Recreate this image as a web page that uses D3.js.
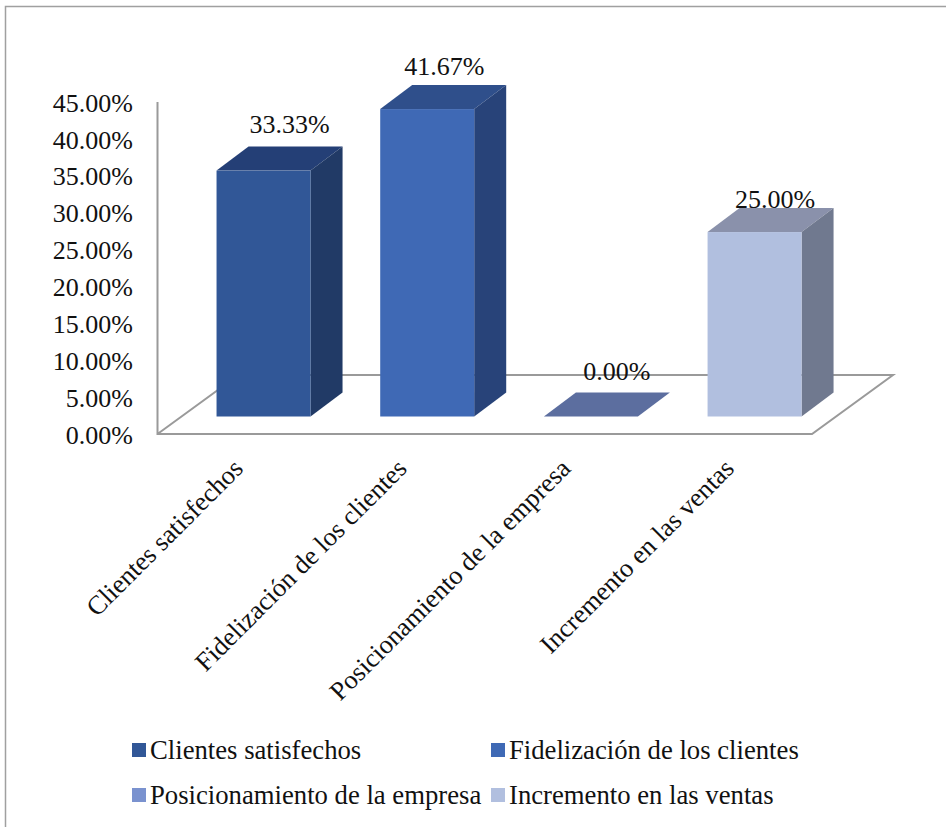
<!DOCTYPE html>
<html>
<head>
<meta charset="utf-8">
<script src="https://cdn.jsdelivr.net/npm/d3@7"></script>
<style>
  html, body { margin: 0; background: #fff; }
  text { font-family: "Liberation Serif", "Times New Roman", serif; fill: #111; }
</style>
</head>
<body>
<svg id="chart" width="946" height="827"></svg>
<script>
const categories = ["Clientes satisfechos", "Fidelización de los clientes", "Posicionamiento de la empresa", "Incremento en las ventas"];
const values = [33.33, 41.67, 0, 25];
const frontColors = ["#315797", "#3f69b5", "#5c6e9f", "#b1bfdf"];
const topColors = ["#243f76", "#2f4f8b", "#5c6e9f", "#8a91ab"];
const sideColors = ["#213a66", "#284379", "#5c6e9f", "#70798f"];
const legendColors = ["#315797", "#3f69b5", "#7a92cf", "#b1bfdf"];
const yTicks = [0, 5, 10, 15, 20, 25, 30, 35, 40, 45];

const svg = d3.select("#chart");
const fmt = v => v.toFixed(2) + "%";

// Outer chart frame: the page edge cuts off its right and bottom sides
svg.append("path")
  .attr("d", "M5.5,827V6.5H946")
  .attr("fill", "none").attr("stroke", "#a0a0a0").attr("stroke-width", 1.5);

const axisBottom = 434, axisTop = 102, axisLeft = 157.5, floorRight = 812;
const floorDepth = { dx: 81, dy: -59 };
const barDepth = { dx: 32, dy: -24 };
const barBase = 416.5;
const barWidth = 94;

const y = d3.scaleLinear().domain([0, 45]).range([axisBottom, axisTop]);
const x = d3.scaleBand().domain(categories).range([181.7, 836.4]);
const barLeft = c => x(c) + (x.bandwidth() - barWidth) / 2;
const barTop = v => barBase - (axisBottom - y(v));

// Floor and value axis
const gridColor = "#9a9a9a";
const floor = d3.path();
floor.moveTo(axisLeft, axisTop);
floor.lineTo(axisLeft, axisBottom);
floor.lineTo(floorRight, axisBottom);
floor.lineTo(floorRight + floorDepth.dx, axisBottom + floorDepth.dy);
floor.lineTo(axisLeft + floorDepth.dx, axisBottom + floorDepth.dy);
floor.lineTo(axisLeft, axisBottom);
svg.append("path").attr("d", floor.toString())
  .attr("fill", "none").attr("stroke", gridColor).attr("stroke-width", 2);

// Value axis labels
svg.append("g").selectAll("text").data(yTicks).join("text")
  .attr("x", 133).attr("y", d => y(d) + 0.8)
  .attr("dy", "0.34em")
  .attr("text-anchor", "end").attr("font-size", 26)
  .text(fmt);

// Columns: front face, top face and right side
const bars = svg.append("g").selectAll("g").data(categories).join("g");
bars.each(function (c, i) {
  const g = d3.select(this);
  const l = barLeft(c), r = l + barWidth, t = barTop(values[i]);
  const poly = pts => d3.line()(pts) + "Z";
  g.append("path").attr("fill", topColors[i]).attr("d", poly([
    [l, t], [r, t], [r + barDepth.dx, t + barDepth.dy], [l + barDepth.dx, t + barDepth.dy]]));
  if (values[i] > 0) {
    g.append("path").attr("fill", sideColors[i]).attr("d", poly([
      [r, t], [r + barDepth.dx, t + barDepth.dy], [r + barDepth.dx, barBase + barDepth.dy], [r, barBase]]));
    g.append("rect").attr("x", l).attr("y", t).attr("width", barWidth)
      .attr("height", barBase - t).attr("fill", frontColors[i]);
  }
});

// Value labels above the columns
const labelShift = [{ x: 26, y: -23 }, { x: 17, y: -19 }, { x: 26, y: -22 }, { x: 20.5, y: -9 }];
svg.append("g").selectAll("text").data(values).join("text")
  .attr("x", (d, i) => barLeft(categories[i]) + barWidth / 2 + labelShift[i].x)
  .attr("y", (d, i) => barTop(d) + barDepth.dy + labelShift[i].y + 9)
  .attr("text-anchor", "middle").attr("font-size", 26)
  .text(fmt);

// Category labels rotated along the floor edge
svg.append("g").selectAll("text").data(categories).join("text")
  .attr("transform", c => `translate(${barLeft(c) + barWidth / 2 - 32},${457}) rotate(-45)`)
  .attr("text-anchor", "end").attr("dy", "0.7em").attr("font-size", 26.4)
  .text(c => c);

// Legend
const legendX = [132, 491], legendY = [750, 795];
const legendItems = svg.append("g").selectAll("g").data(categories).join("g")
  .attr("transform", (c, i) => `translate(${legendX[i % 2]},${legendY[Math.floor(i / 2)]})`);
legendItems.append("rect").attr("x", 0).attr("y", -7).attr("width", 14).attr("height", 14)
  .attr("fill", (c, i) => legendColors[i]);
legendItems.append("text").attr("x", 18).attr("dy", "0.34em").attr("font-size", 26.7).text(c => c);
</script>
</body>
</html>
